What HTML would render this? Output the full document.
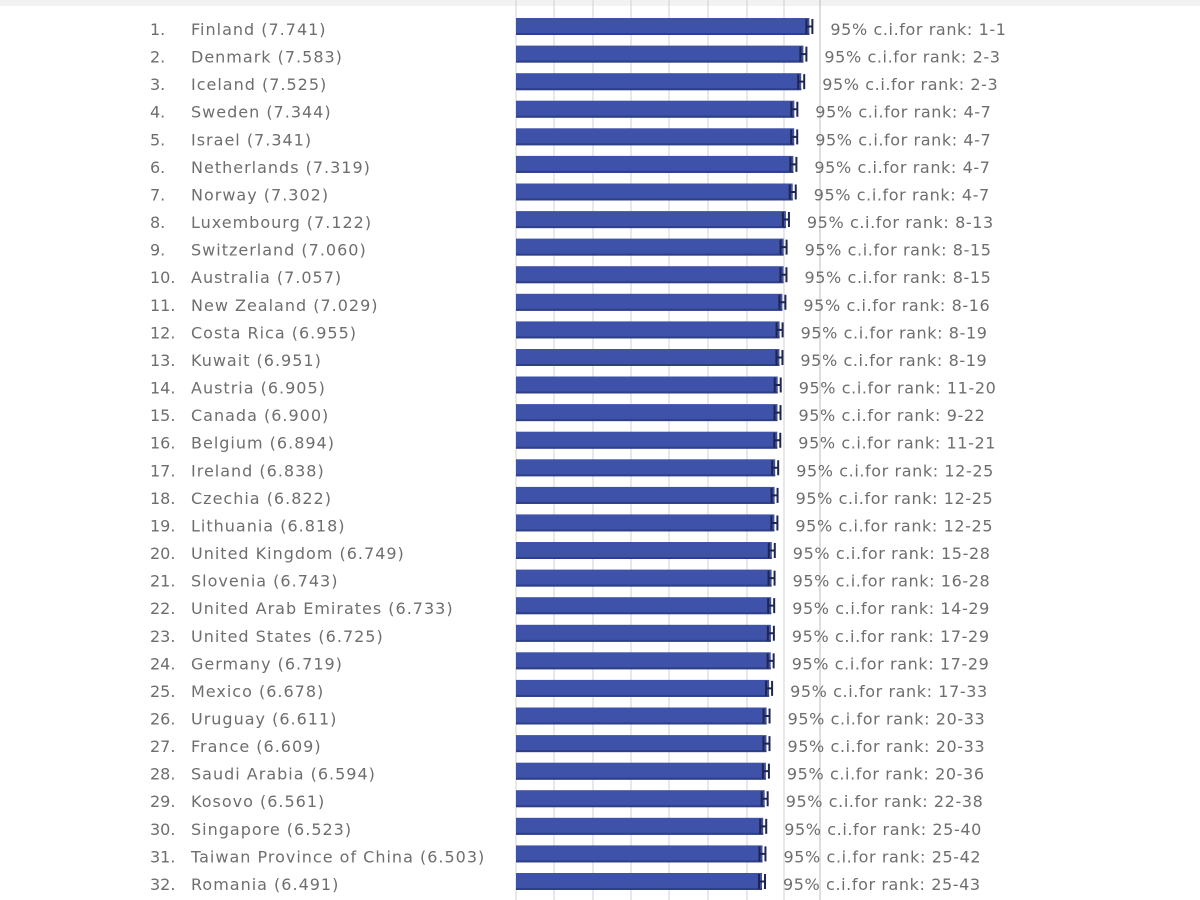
<!DOCTYPE html>
<html><head><meta charset="utf-8"><style>
html,body{margin:0;padding:0;background:#fff;width:1200px;height:900px;overflow:hidden}
svg text{font-family:"DejaVu Sans","Liberation Sans",sans-serif;fill:#6e6e6e;font-size:16px}
text.n{letter-spacing:1px}
text.c{letter-spacing:0.6px}
</style></head><body>
<svg id="s" width="1200" height="900" xmlns="http://www.w3.org/2000/svg">
<rect x="0" y="0" width="1200" height="6" fill="#f2f2f2"/>
</svg>
<script>
var d=[["Finland",7.741,"1-1"],["Denmark",7.583,"2-3"],["Iceland",7.525,"2-3"],["Sweden",7.344,"4-7"],["Israel",7.341,"4-7"],["Netherlands",7.319,"4-7"],["Norway",7.302,"4-7"],["Luxembourg",7.122,"8-13"],["Switzerland",7.060,"8-15"],["Australia",7.057,"8-15"],["New Zealand",7.029,"8-16"],["Costa Rica",6.955,"8-19"],["Kuwait",6.951,"8-19"],["Austria",6.905,"11-20"],["Canada",6.900,"9-22"],["Belgium",6.894,"11-21"],["Ireland",6.838,"12-25"],["Czechia",6.822,"12-25"],["Lithuania",6.818,"12-25"],["United Kingdom",6.749,"15-28"],["Slovenia",6.743,"16-28"],["United Arab Emirates",6.733,"14-29"],["United States",6.725,"17-29"],["Germany",6.719,"17-29"],["Mexico",6.678,"17-33"],["Uruguay",6.611,"20-33"],["France",6.609,"20-33"],["Saudi Arabia",6.594,"20-36"],["Kosovo",6.561,"22-38"],["Singapore",6.523,"25-40"],["Taiwan Province of China",6.503,"25-42"],["Romania",6.491,"25-43"]];
var h='';
[516,554,593,631,669,708,747,784].forEach(function(x){h+='<line x1="'+x+'" y1="0" x2="'+x+'" y2="900" stroke="#d0d0d0" stroke-width="1"/>';});
h+='<line x1="820" y1="0" x2="820" y2="900" stroke="#c8c8c8" stroke-width="1.2"/>';
d.forEach(function(r,i){
 var t=18+27.58*i, e=516+r[1]*37.9;
 h+='<rect x="516" y="'+t.toFixed(1)+'" width="'+(e-516).toFixed(1)+'" height="17" fill="#3d52a8"/>';
 h+='<rect x="516" y="'+(t+15).toFixed(1)+'" width="'+(e-516).toFixed(1)+'" height="2" fill="#2e3f88"/>';
 var hx=e-3;
 h+='<path d="M'+hx+' '+(t+1)+'v15M'+(hx+6)+' '+(t+1)+'v15M'+hx+' '+(t+8.5)+'h6" stroke="#1e2550" stroke-width="2" fill="none"/>';
 var b=(t+17).toFixed(1);
 h+='<text x="150" y="'+b+'">'+(i+1)+'.</text>';
 h+='<text class="n" x="191" y="'+b+'">'+r[0]+' ('+r[1].toFixed(3)+')</text>';
 h+='<text class="c" x="'+(e+21).toFixed(1)+'" y="'+b+'">95% c.i.for rank: '+r[2]+'</text>';
});
document.getElementById('s').insertAdjacentHTML('beforeend',h);
</script>
</body></html>
